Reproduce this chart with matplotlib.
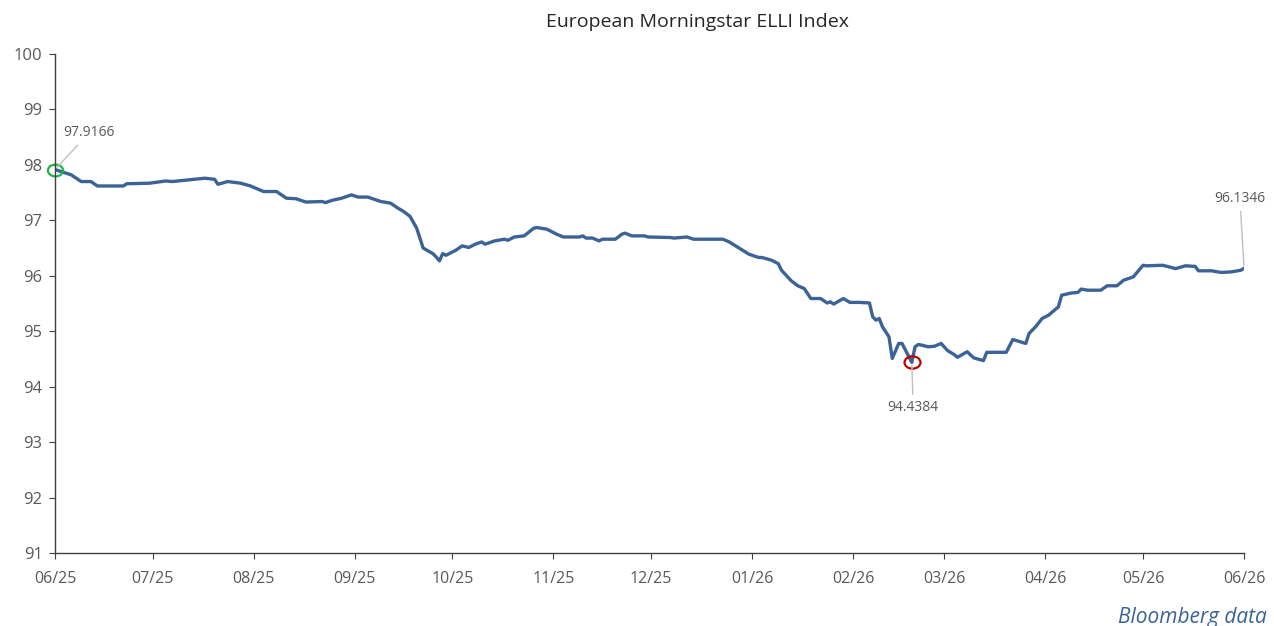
import numpy as np
import matplotlib
matplotlib.use('Agg')
import matplotlib.pyplot as plt
import matplotlib.dates as mdates
from matplotlib.path import Path
from matplotlib.transforms import Affine2D

plt.rcParams['font.family'] = ['Open Sans', 'DejaVu Sans']

# days since 2025-06-01 and index level
days = [0, 5, 8, 11, 13, 21, 22, 29, 34, 36, 41, 46, 49, 50, 53, 57, 60, 64, 68,
        71, 74, 77, 82, 83, 85, 88, 91, 93, 96, 98, 100, 103, 105, 107, 109, 111,
        113, 116, 117, 118, 119, 120, 123, 125, 127, 129, 131, 132, 135, 138, 139,
        141, 144, 147, 148, 151, 154, 156, 161, 162, 163, 165, 167, 168, 172, 174,
        175, 177, 181, 182, 189, 190, 194, 196, 205, 207, 210, 213, 216, 217, 220,
        222, 223, 226, 228, 230, 232, 235, 237, 238, 239, 242, 244, 247, 250, 251,
        252, 253, 254, 256, 257, 259, 260, 263, 264, 265, 266, 268, 270, 272, 274,
        276, 277, 280, 282, 285, 286, 292, 294, 298, 299, 301, 303, 305, 308, 309,
        312, 314, 315, 317, 321, 323, 326, 328, 331, 334, 335, 340, 342, 344, 347,
        350, 351, 355, 358, 361, 364, 365]
values = [97.9166, 97.82, 97.70, 97.70, 97.62, 97.62, 97.66, 97.67, 97.71, 97.70,
          97.73, 97.76, 97.74, 97.65, 97.70, 97.67, 97.62, 97.52, 97.52, 97.40,
          97.39, 97.33, 97.34, 97.32, 97.36, 97.40, 97.46, 97.42, 97.42, 97.38,
          97.34, 97.31, 97.23, 97.16, 97.07, 96.86, 96.50, 96.40, 96.34, 96.27,
          96.40, 96.37, 96.46, 96.54, 96.51, 96.57, 96.61, 96.57, 96.63, 96.66,
          96.64, 96.70, 96.72, 96.86, 96.87, 96.84, 96.75, 96.70, 96.70, 96.72,
          96.68, 96.68, 96.63, 96.66, 96.66, 96.75, 96.77, 96.72, 96.72, 96.70,
          96.69, 96.68, 96.70, 96.66, 96.66, 96.61, 96.50, 96.39, 96.33, 96.33,
          96.28, 96.22, 96.10, 95.91, 95.82, 95.77, 95.59, 95.59, 95.51, 95.53,
          95.49, 95.59, 95.52, 95.52, 95.51, 95.26, 95.20, 95.23, 95.08, 94.90,
          94.51, 94.78, 94.78, 94.4384, 94.72, 94.76, 94.75, 94.72, 94.73, 94.78,
          94.65, 94.58, 94.53, 94.63, 94.52, 94.47, 94.62, 94.62, 94.85, 94.78,
          94.96, 95.08, 95.23, 95.29, 95.44, 95.65, 95.69, 95.70, 95.76, 95.74,
          95.74, 95.82, 95.82, 95.92, 95.98, 96.19, 96.18, 96.19, 96.16, 96.13,
          96.18, 96.17, 96.09, 96.09, 96.06, 96.07, 96.10, 96.1346]

start = np.datetime64('2025-06-01')
dates = start + np.array(days).astype('timedelta64[D]')
values = np.array(values)

line_color = '#3b6396'
text_color = '#595959'

fig = plt.figure(figsize=(12.74, 6.26), dpi=100)
ax = fig.add_axes([0.0432, 0.1166, 0.9333, 0.7971])

ax.plot(dates, values, color=line_color, lw=2.4, solid_joinstyle='round')

ax.set_xlim(np.datetime64('2025-06-01'), np.datetime64('2026-06-01'))
ax.set_ylim(91, 100)
ax.set_yticks(range(91, 101))
ax.xaxis.set_major_locator(mdates.MonthLocator())
ax.xaxis.set_major_formatter(mdates.DateFormatter('%m/%y'))

for s in ['top', 'right']:
    ax.spines[s].set_visible(False)
for s in ['left', 'bottom']:
    ax.spines[s].set_color('#404040')
    ax.spines[s].set_linewidth(1.0)
ax.tick_params(axis='both', colors='#404040', labelcolor=text_color,
               length=4, direction='out')
ax.tick_params(axis='x', pad=9, labelsize=11.5)
ax.tick_params(axis='y', pad=5, labelsize=12)

fig.text(697 / 1274, 1 - 22 / 626, 'European Morningstar ELLI Index', ha='center',
         va='center', fontsize=14, color='#262626')

# highlighted points, drawn as flat ellipses
oval = Path.unit_circle().transformed(Affine2D().scale(1.3, 1.0))
i_min = int(np.argmin(values))
ax.plot(dates[0], values[0], marker=oval, ms=11, mfc='none', mec='#22b14c', mew=1.6,
        clip_on=False)
ax.plot(dates[i_min], values[i_min], marker=oval, ms=11.5, mfc='none', mec='#c00000',
        mew=1.6)

ann = dict(fontsize=10, color=text_color)
lp = dict(arrowstyle='-', color='#bfbfbf', lw=1)
ax.annotate(f'{values[0]:.4f}', xy=(dates[0], values[0]), xytext=(6, 21),
            textcoords='offset points', ha='left', va='bottom', arrowprops=lp, **ann)
ax.annotate(f'{values[i_min]:.4f}', xy=(dates[i_min], values[i_min]), xytext=(1, -27),
            textcoords='offset points', ha='center', va='top', arrowprops=lp, **ann)
ax.annotate(f'{values[-1]:.4f}', xy=(dates[-1], values[-1]), xytext=(-3, 45),
            textcoords='offset points', ha='center', va='bottom', arrowprops=lp, **ann)

fig.text(1267 / 1274, 1 - 623 / 626, 'Bloomberg data', ha='right', va='baseline',
         fontsize=15, style='italic', color=line_color)

fig.savefig('out.png', dpi=100)
